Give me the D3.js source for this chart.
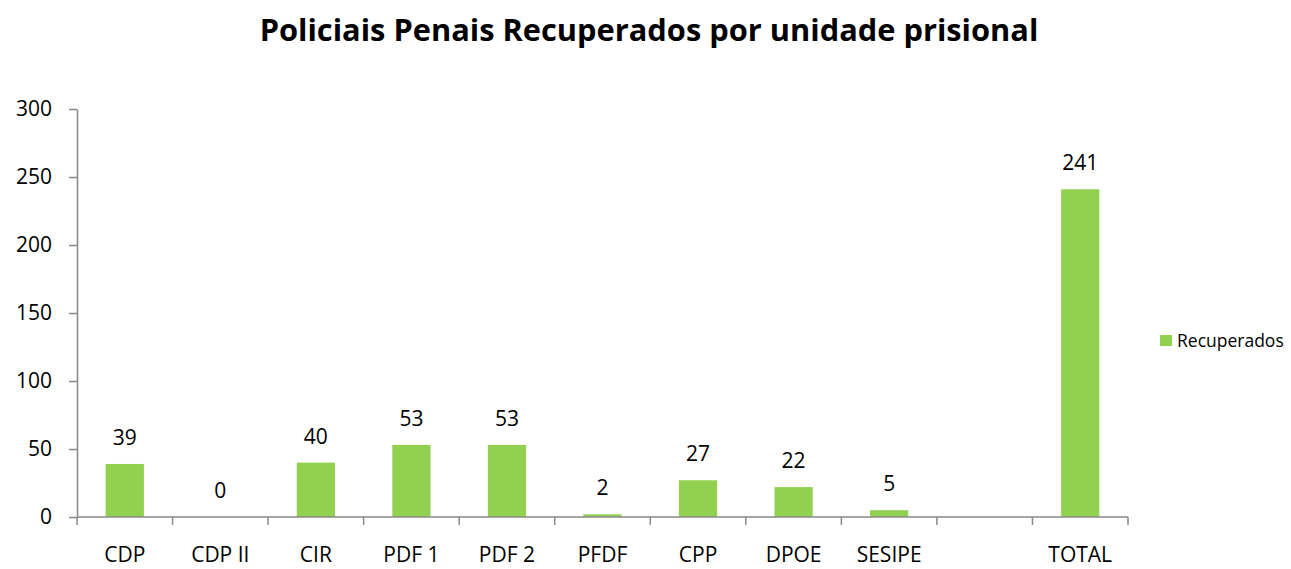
<!DOCTYPE html>
<html>
<head>
<meta charset="utf-8">
<script src="https://cdn.jsdelivr.net/npm/d3@7"></script>
<style>
  body { margin: 0; background: #fff; }
  text { font-family: 'Open Sans', sans-serif; fill: #000; }
</style>
</head>
<body>
<div id="chart"></div>
<script>
const categories = ['CDP', 'CDP II', 'CIR', 'PDF 1', 'PDF 2', 'PFDF', 'CPP', 'DPOE', 'SESIPE', '', 'TOTAL'];
const recuperados = [39, 0, 40, 53, 53, 2, 27, 22, 5, null, 241];
const yTicks = [0, 50, 100, 150, 200, 250, 300];

const width = 1291, height = 569;
const margin = {left: 77, top: 109, right: 163, bottom: 52};

const svg = d3.select('#chart').append('svg')
    .attr('width', width)
    .attr('height', height);

const x = d3.scaleBand()
    .domain(d3.range(categories.length))
    .range([margin.left, width - margin.right])
    .paddingInner(0.6)
    .paddingOuter(0.3);

const y = d3.scaleLinear()
    .domain([0, 300])
    .range([height - margin.bottom, margin.top]);

// title
svg.append('text')
    .attr('x', 649)
    .attr('y', 41)
    .attr('text-anchor', 'middle')
    .style('font-weight', 'bold')
    .style('font-size', '30.8px')
    .text('Policiais Penais Recuperados por unidade prisional');

const barData = recuperados.map((v, i) => ({v, i})).filter(d => d.v !== null);

// bars
svg.append('g')
    .selectAll('rect')
    .data(barData)
    .join('rect')
    .attr('x', d => x(d.i))
    .attr('width', x.bandwidth())
    .attr('y', d => y(d.v))
    .attr('height', d => y(0) - y(d.v))
    .attr('fill', '#92d050');

// value labels
svg.append('g')
    .selectAll('text')
    .data(barData)
    .join('text')
    .attr('x', d => x(d.i) + x.bandwidth() / 2)
    .attr('y', d => y(d.v) - 19)
    .attr('text-anchor', 'middle')
    .style('font-size', '21px')
    .text(d => d.v);

// y axis
const yAxis = svg.append('g')
    .attr('transform', `translate(${margin.left},0)`)
    .call(d3.axisLeft(y).tickValues(yTicks).tickSize(8).tickPadding(17).tickSizeOuter(0));
yAxis.selectAll('text').style('font-size', '21px').attr('fill', '#000');
yAxis.select('.domain').attr('stroke', '#888').attr('stroke-width', 1.5);
yAxis.selectAll('.tick line').attr('stroke', '#888').attr('stroke-width', 1.5);

// x axis (ticks at band boundaries)
const step = x.step();
const x0 = margin.left, x1 = width - margin.right;
const xAxis = svg.append('g')
    .attr('transform', `translate(0,${y(0)})`);
xAxis.append('line')
    .attr('x1', x0).attr('x2', x1)
    .attr('stroke', '#888').attr('stroke-width', 1.5);
xAxis.selectAll('.tk')
    .data(d3.range(categories.length + 1))
    .join('line')
    .attr('class', 'tk')
    .attr('x1', i => x0 + i * step).attr('x2', i => x0 + i * step)
    .attr('y1', 0).attr('y2', 8)
    .attr('stroke', '#888').attr('stroke-width', 1.5);
xAxis.selectAll('text')
    .data(categories)
    .join('text')
    .attr('x', (d, i) => x(i) + x.bandwidth() / 2)
    .attr('y', 45)
    .attr('text-anchor', 'middle')
    .style('font-size', '21px')
    .text(d => d);

// legend
const legend = svg.append('g').attr('transform', 'translate(1160,335)');
legend.append('rect').attr('width', 12).attr('height', 11).attr('fill', '#92d050');
legend.append('text')
    .attr('x', 17).attr('y', 12)
    .style('font-size', '17.5px')
    .text('Recuperados');
</script>
</body>
</html>
